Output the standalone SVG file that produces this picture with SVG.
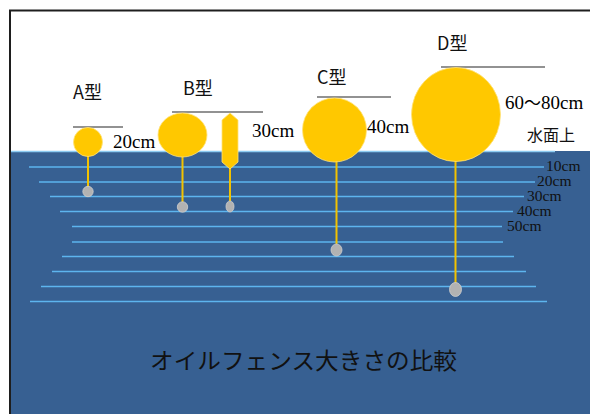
<svg xmlns="http://www.w3.org/2000/svg" width="590" height="414" viewBox="0 0 590 414">
  <style>
    .frame { stroke: #1e1e1e; stroke-width: 2; fill: none; }
    .depth { stroke: #5DB5EE; stroke-width: 1.5; }
    .gauge { stroke: #6e6e6e; stroke-width: 1.5; }
    .float { fill: #FFC800; stroke: #FFE27A; stroke-width: 0.8; }
    .rod { stroke: #F2C200; stroke-width: 2; }
    .weight { fill: #B2B2B2; stroke: #CFCFCF; stroke-width: 0.8; }
    .type { font-family: "Noto Sans CJK JP", "Noto Sans", sans-serif; font-size: 18px; fill: #111; }
    .size { font-family: "Liberation Serif", "Noto Sans CJK JP", serif; font-size: 19px; fill: #000; }
    .dlabel { font-family: "Liberation Serif", serif; font-size: 15.5px; fill: #111; }
    .jp { font-family: "Noto Sans CJK JP", sans-serif; fill: #111; }
  </style>

  <!-- background and water -->
  <rect x="0" y="0" width="590" height="414" fill="#ffffff"/>
  <rect x="10" y="151" width="580" height="263" fill="#376092"/>
  <line x1="10" y1="151.5" x2="555" y2="151.5" stroke="#8CCBF2" stroke-width="1.5"/>

  <!-- frame -->
  <path class="frame" d="M9 10.5 H590 M10 10 V414"/>

  <!-- depth lines -->
  <g id="depth-lines">
    <line class="depth" x1="29" y1="167" x2="544" y2="167"/>
    <line class="depth" x1="39" y1="182" x2="535" y2="182"/>
    <line class="depth" x1="50" y1="196.5" x2="524" y2="196.5"/>
    <line class="depth" x1="60" y1="211.5" x2="513" y2="211.5"/>
    <line class="depth" x1="72" y1="226.5" x2="502" y2="226.5"/>
    <line class="depth" x1="72" y1="242" x2="503" y2="242"/>
    <line class="depth" x1="62" y1="256.5" x2="514" y2="256.5"/>
    <line class="depth" x1="52" y1="271.5" x2="526" y2="271.5"/>
    <line class="depth" x1="41" y1="286.5" x2="536" y2="286.5"/>
    <line class="depth" x1="30" y1="301.5" x2="547" y2="301.5"/>
  </g>

  <g id="depth-labels">
    <text class="dlabel" x="546" y="171">10cm</text>
    <text class="dlabel" x="537" y="186">20cm</text>
    <text class="dlabel" x="527" y="200.5">30cm</text>
    <text class="dlabel" x="517" y="215.5">40cm</text>
    <text class="dlabel" x="507" y="230.5">50cm</text>
  </g>

  <!-- connectors: rods from floats to weights -->
  <g id="rods">
    <line class="rod" x1="88" y1="156" x2="88" y2="187"/>
    <line class="rod" x1="182.5" y1="156" x2="182.5" y2="202"/>
    <line class="rod" x1="230" y1="168" x2="230" y2="201"/>
    <line class="rod" x1="336.5" y1="161" x2="336.5" y2="244"/>
    <line class="rod" x1="455.5" y1="160" x2="455.5" y2="283"/>
  </g>

  <!-- type A -->
  <g id="type-a">
    <text class="type" x="73" y="99">A型</text>
    <line class="gauge" x1="73" y1="127" x2="123" y2="127"/>
    <circle class="float" cx="88" cy="142" r="14.5"/>
    <ellipse class="weight" cx="88" cy="191.5" rx="5.2" ry="5.2"/>
    <text class="size" x="113" y="148">20cm</text>
  </g>

  <!-- type B -->
  <g id="type-b">
    <text class="type" x="183" y="95">B型</text>
    <line class="gauge" x1="172" y1="112" x2="263" y2="112"/>
    <ellipse class="float" cx="182.5" cy="135" rx="24.5" ry="22"/>
    <polygon class="float" points="230,113 238,120 238,162 230,169 222,162 222,120"/>
    <ellipse class="weight" cx="182.5" cy="207" rx="5.2" ry="5.2"/>
    <ellipse class="weight" cx="230" cy="206.5" rx="4" ry="5.5"/>
    <text class="size" x="252" y="137">30cm</text>
  </g>

  <!-- type C -->
  <g id="type-c">
    <text class="type" x="317" y="84">C型</text>
    <line class="gauge" x1="317" y1="97" x2="391" y2="97"/>
    <circle class="float" cx="334.5" cy="130" r="32"/>
    <ellipse class="weight" cx="336.5" cy="250" rx="5.5" ry="6"/>
    <text class="size" x="367" y="133">40cm</text>
  </g>

  <!-- type D -->
  <g id="type-d">
    <text class="type" x="437" y="50">D型</text>
    <line class="gauge" x1="441" y1="67" x2="545" y2="67"/>
    <ellipse class="float" cx="456" cy="114.5" rx="44.5" ry="47"/>
    <ellipse class="weight" cx="455.5" cy="289.5" rx="6" ry="7"/>
    <text class="size" x="505" y="109">60<tspan font-family="'Noto Sans CJK JP', sans-serif" font-size="17">～</tspan>80cm</text>
  </g>

  <text class="jp" x="527" y="141" font-size="16">水面上</text>

  <!-- caption -->
  <text class="jp" x="150" y="369" font-size="22.5" textLength="307" lengthAdjust="spacingAndGlyphs">オイルフェンス大きさの比較</text>
</svg>
